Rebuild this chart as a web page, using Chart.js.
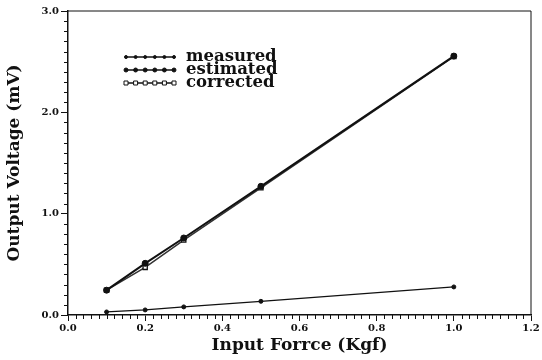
<!DOCTYPE html>
<html>
<head>
<meta charset="utf-8">
<script src="https://cdn.jsdelivr.net/npm/chart.js@4"></script>
<style>
  html, body { margin: 0; padding: 0; background: #fff; }
  #wrap { width: 542px; height: 360px; }
</style>
</head>
<body>
<div id="wrap"><canvas id="grafico" width="542" height="360"></canvas></div>
<script>
// Datos
const fuerza = [0.1, 0.2, 0.3, 0.5, 1.0];
const medido = [0.03, 0.05, 0.08, 0.135, 0.277];
const estimado = [0.245, 0.51, 0.76, 1.27, 2.555];
const corregido = [0.245, 0.47, 0.74, 1.255, 2.55];

const etiquetas = ['measured', 'estimated', 'corrected'];
const ticksX = [0, 0.2, 0.4, 0.6, 0.8, 1.0, 1.2];
const ticksY = [0, 1.0, 2.0, 3.0];

const serif = 'DejaVu Serif';
const negro = '#111';

function puntos(ys) {
  return fuerza.map((x, i) => ({ x: x, y: ys[i] }));
}

// dibuja un marcador segun el estilo del dataset
function marcador(ctx, ds, x, y, r) {
  ctx.save();
  ctx.fillStyle = ds.pointBackgroundColor;
  ctx.strokeStyle = ds.pointBorderColor;
  ctx.lineWidth = 1;
  ctx.beginPath();
  if (ds.pointStyle === 'rect') {
    ctx.rect(x - r, y - r, 2 * r, 2 * r);
  } else {
    ctx.arc(x, y, r, 0, Math.PI * 2);
  }
  ctx.fill();
  ctx.stroke();
  ctx.restore();
}

// marco, marcas menores y leyenda
const extras = {
  id: 'extras',
  afterDraw(chart) {
    const ctx = chart.ctx;
    const a = chart.chartArea;
    const sx = chart.scales.x;
    const sy = chart.scales.y;
    ctx.save();
    ctx.strokeStyle = negro;
    ctx.lineWidth = 1;
    // marco superior y derecho
    ctx.beginPath();
    ctx.moveTo(a.left, a.top);
    ctx.lineTo(a.right, a.top);
    ctx.lineTo(a.right, a.bottom);
    ctx.stroke();
    // marcas menores
    ctx.beginPath();
    for (let k = 1; k < 60; k++) {
      if (k % 10 === 0) continue;
      const px = Math.round(sx.getPixelForValue(k * 0.02)) + 0.5;
      ctx.moveTo(px, a.bottom);
      ctx.lineTo(px, a.bottom + 4);
    }
    for (let k = 1; k < 30; k++) {
      if (k % 10 === 0) continue;
      const py = Math.round(sy.getPixelForValue(k * 0.1)) + 0.5;
      ctx.moveTo(a.left, py);
      ctx.lineTo(a.left - 4, py);
    }
    ctx.stroke();

    // leyenda
    const radios = [1.5, 2, 2];
    chart.data.datasets.forEach((ds, i) => {
      const y = 57 + 13 * i;
      ctx.strokeStyle = negro;
      ctx.lineWidth = 1.3;
      ctx.beginPath();
      ctx.moveTo(126, y);
      ctx.lineTo(174, y);
      ctx.stroke();
      for (let k = 0; k < 6; k++) marcador(ctx, ds, 126 + k * 9.6, y, radios[i]);
      ctx.fillStyle = negro;
      ctx.font = 'bold 16.5px "' + serif + '"';
      ctx.textBaseline = 'middle';
      ctx.fillText(ds.label, 186, y);
    });
    ctx.restore();
  }
};

new Chart(document.getElementById('grafico'), {
  type: 'scatter',
  data: {
    datasets: [
      {
        label: etiquetas[0],
        data: puntos(medido),
        showLine: true,
        borderColor: negro,
        borderWidth: 1.3,
        pointStyle: 'circle',
        pointRadius: 2,
        pointBackgroundColor: negro,
        pointBorderColor: negro,
        pointBorderWidth: 1,
      },
      {
        label: etiquetas[1],
        data: puntos(estimado),
        showLine: true,
        borderColor: negro,
        borderWidth: 2,
        pointStyle: 'circle',
        pointRadius: 3,
        pointBackgroundColor: negro,
        pointBorderColor: negro,
        pointBorderWidth: 1,
      },
      {
        label: etiquetas[2],
        data: puntos(corregido),
        showLine: true,
        borderColor: '#333',
        borderWidth: 1.5,
        pointStyle: 'rect',
        pointRadius: 3,
        pointBackgroundColor: '#fff',
        pointBorderColor: negro,
        pointBorderWidth: 1.3,
      }
    ]
  },
  options: {
    responsive: false,
    animation: false,
    layout: { padding: { top: 11, right: 11, left: 0, bottom: 0 } },
    plugins: {
      legend: { display: false },
      tooltip: { enabled: false }
    },
    scales: {
      x: {
        type: 'linear',
        min: 0,
        max: 1.2,
        afterBuildTicks: s => { s.ticks = ticksX.map(v => ({ value: v })); },
        afterFit: s => { s.height = 45; },
        ticks: {
          color: negro,
          padding: 1,
          font: { family: serif, weight: 'bold', size: 10 },
          callback: v => v.toFixed(1)
        },
        grid: { drawOnChartArea: false, tickLength: 6, tickColor: negro, tickWidth: 1 },
        border: { color: negro, width: 1.5 },
        title: {
          display: true,
          text: 'Input Forrce (Kgf)',
          color: negro,
          padding: { top: 0 },
          font: { family: serif, weight: 'bold', size: 17 }
        }
      },
      y: {
        type: 'linear',
        min: 0,
        max: 3,
        afterBuildTicks: s => { s.ticks = ticksY.map(v => ({ value: v })); },
        afterFit: s => { s.width = 68; },
        ticks: {
          color: negro,
          padding: 2,
          font: { family: serif, weight: 'bold', size: 10 },
          callback: v => v.toFixed(1)
        },
        grid: { drawOnChartArea: false, tickLength: 7, tickColor: negro, tickWidth: 1 },
        border: { color: negro, width: 1.5 },
        title: {
          display: true,
          text: 'Output Voltage (mV)',
          color: negro,
          padding: { top: 4, bottom: 8 },
          font: { family: serif, weight: 'bold', size: 17 }
        }
      }
    }
  },
  plugins: [extras]
});
</script>
</body>
</html>
